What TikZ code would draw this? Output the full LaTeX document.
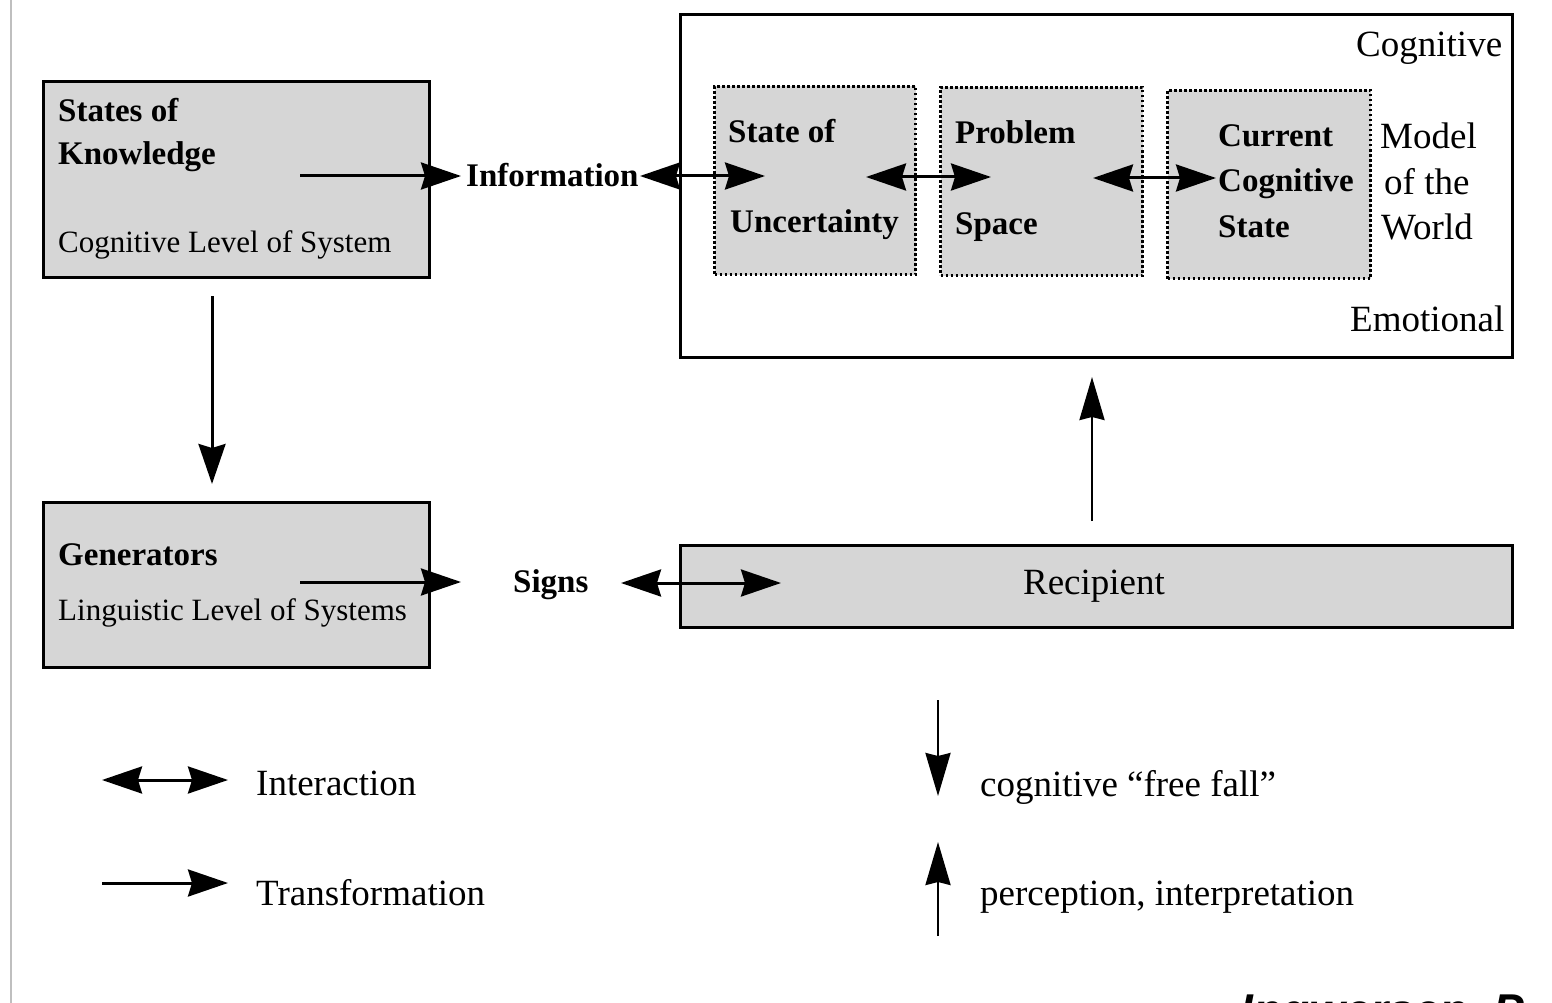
\documentclass[tikz,border=0pt]{standalone}
\usepackage{fontspec}
\setmainfont{Liberation Serif}
\newfontfamily\authfont{Liberation Sans}
\usetikzlibrary{arrows.meta}
\begin{document}
\begin{tikzpicture}[x=1pt,y=-1pt,
  box/.style={draw, line width=3.2pt, fill=black!16, inner sep=0pt, anchor=north west},
  dbox/.style={draw, line width=3pt, dash pattern=on 2.4pt off 2.6pt, fill=black!16, inner sep=0pt, anchor=north west},
  wbox/.style={draw, line width=2.8pt, fill=white, inner sep=0pt, anchor=north west},
  bt/.style={anchor=base west, inner sep=0pt, font=\fontsize{33}{38}\selectfont\bfseries},
  st/.style={anchor=base west, inner sep=0pt, font=\fontsize{31}{36}\selectfont},
  lt/.style={anchor=base west, inner sep=0pt, font=\fontsize{37}{42}\selectfont},
  arr/.style={line width=3pt, -{Stealth[length=40pt,width=27pt,inset=4pt]}},
  darr/.style={line width=3pt, {Stealth[length=40pt,width=27pt,inset=4pt]}-{Stealth[length=40pt,width=27pt,inset=4pt]}},
  varr/.style={line width=2.6pt, -{Stealth[length=43pt,width=25pt,inset=3pt]}},
]
\useasboundingbox (0,0) rectangle (1552,1003);
\clip (0,0) rectangle (1552,1003);
\fill[white] (0,0) rectangle (1552,1003);
% left margin rule
\coordinate (mt) at (11,0);
\coordinate (mb) at (11,1003);
\draw[black!25, line width=1.5pt] (mt) -- (mb);

% left boxes
\node[box, minimum width=386pt, minimum height=196pt] (sk) at (42,80) {};
\node[bt] (skt1) at (58,122) {States of};
\node[bt] (skt2) at (58,165) {Knowledge};
\node[st] (skt3) at (58,252) {Cognitive Level of System};

\node[box, minimum width=386pt, minimum height=165pt] (gen) at (42,501) {};
\node[bt] (gent1) at (58,565) {Generators};
\node[st] (gent2) at (58,620) {Linguistic Level of Systems};

% big cognitive box
\node[wbox, minimum width=832pt, minimum height=343pt] (cog) at (679,13) {};
\node[lt] (cogl) at (1356,57) {Cognitive};
\node[lt] (emol) at (1350,331) {Emotional};

\node[dbox, minimum width=201pt, minimum height=188pt] (su) at (713,85) {};
\node[bt] (sut1) at (728,143) {State of};
\node[bt] (sut2) at (730,232) {Uncertainty};

\node[dbox, minimum width=202pt, minimum height=188pt] (ps) at (939,86) {};
\node[bt] (pst1) at (955,144) {Problem};
\node[bt] (pst2) at (955,234) {Space};

\node[dbox, minimum width=203pt, minimum height=188pt] (ccs) at (1166,89) {};
\node[bt] (ccst1) at (1218,147) {Current};
\node[bt] (ccst2) at (1218,192) {Cognitive};
\node[bt] (ccst3) at (1218,237) {State};

\node[lt] (mw1) at (1380,149) {Model};
\node[lt] (mw2) at (1384,194) {of the};
\node[lt] (mw3) at (1381,239) {World};

% information / signs / recipient
\node[bt] (info) at (466,186) {Information};
\node[bt] (signs) at (513,592) {Signs};
\node[box, minimum width=832pt, minimum height=82pt] (rec) at (679,544) {};
\node[lt, anchor=base] (rect) at (1094,594) {Recipient};

% arrows top row
\coordinate (a1s) at (300,176);
\coordinate (a1e) at (461,176);
\draw[arr] (a1s) -- (a1e);
\coordinate (a2s) at (640,176);
\coordinate (a2e) at (765,176);
\draw[darr] (a2s) -- (a2e);
\coordinate (a3s) at (866,177);
\coordinate (a3e) at (991,177);
\draw[darr] (a3s) -- (a3e);
\coordinate (a4s) at (1093,178);
\coordinate (a4e) at (1216,178);
\draw[darr] (a4s) -- (a4e);

% down arrow left
\coordinate (d1s) at (212,296);
\coordinate (d1e) at (212,484);
\draw[arr] (d1s) -- (d1e);

% second row arrows
\coordinate (a5s) at (300,582);
\coordinate (a5e) at (461,582);
\draw[arr] (a5s) -- (a5e);
\coordinate (a6s) at (621,583);
\coordinate (a6e) at (781,583);
\draw[darr] (a6s) -- (a6e);

% up arrow recipient -> cognitive box
\coordinate (u1s) at (1092,521);
\coordinate (u1e) at (1092,377);
\draw[varr] (u1s) -- (u1e);

% legend
\coordinate (l1s) at (102,780);
\coordinate (l1e) at (228,780);
\draw[darr] (l1s) -- (l1e);
\node[lt] (inter) at (256,795) {Interaction};
\coordinate (l2s) at (102,883);
\coordinate (l2e) at (228,883);
\draw[arr] (l2s) -- (l2e);
\node[lt] (trans) at (256,905) {Transformation};

\coordinate (l3s) at (938,700);
\coordinate (l3e) at (938,796);
\draw[varr] (l3s) -- (l3e);
\node[lt] (ff) at (980,796) {cognitive “free fall”};
\coordinate (l4s) at (938,936);
\coordinate (l4e) at (938,842);
\draw[varr] (l4s) -- (l4e);
\node[lt] (perc) at (980,905) {perception, interpretation};

% author credit, cut off by the lower edge as in the reference
\node[anchor=base west, inner sep=0pt, font=\fontsize{46}{50}\authfont\bfseries\itshape] (auth) at (1240,1026) {Ingwersen, P};
\end{tikzpicture}
\end{document}
